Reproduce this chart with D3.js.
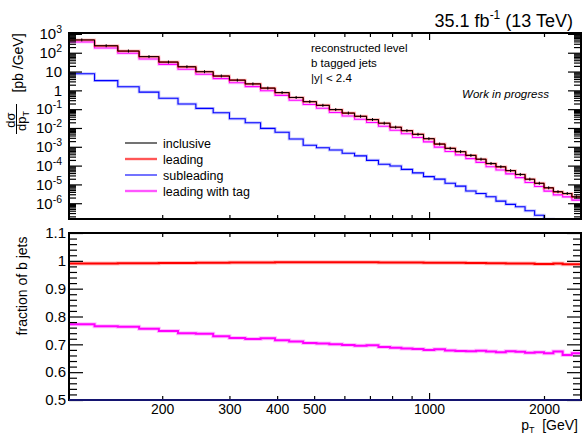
<!DOCTYPE html>
<html><head><meta charset="utf-8">
<script src="https://cdn.jsdelivr.net/npm/d3@7"></script>
<style>
body{margin:0;background:#fff;}
svg{display:block;font-family:"Liberation Sans",Arial,Helvetica,sans-serif;}
</style></head><body>
<svg id="c" width="582" height="435"></svg>
<script>
// ---------------- data ----------------
const binEdges = [114,133,153,174,196,220,245,272,300,330,362,395,430,468,507,548,592,638,686,737,790,846,905,967,1032,1101,1172,1248,1327,1410,1497,1588,1684,1784,1890,2000,2116,2238,2366,2500];
const inclusive = [480,235,123,62,32,18,9.8,5.8,3.5,2.2,1.32,0.76,0.42,0.25,0.16,0.095,0.062,0.042,0.028,0.018,0.011,0.0072,0.0046,0.0027,0.0014,0.00083,0.00055,0.00035,0.00022,0.00013,8.7e-5,5.4e-5,3.4e-5,1.9e-5,1.15e-5,6.6e-6,4.1e-6,3.3e-6,2.2e-6];
const subleading = [7.7,3.3,1.55,0.81,0.38,0.19,0.11,0.065,0.031,0.019,0.0095,0.0059,0.0026,0.0012,0.00089,0.00067,0.00045,0.00033,0.00019,1.17e-4,9.6e-5,6.3e-5,4.1e-5,2.6e-5,1.9e-5,1.15e-5,8.1e-6,4.5e-6,3.3e-6,2.2e-6,1.3e-6,8.7e-7,6.5e-7,4.0e-7,2.3e-7,1.4e-7,8e-8,5e-8,3e-8];
const leadingFraction = [0.990,0.990,0.991,0.991,0.992,0.992,0.993,0.993,0.994,0.994,0.994,0.995,0.995,0.995,0.995,0.995,0.995,0.995,0.995,0.994,0.994,0.994,0.994,0.993,0.993,0.993,0.993,0.992,0.992,0.991,0.991,0.990,0.990,0.990,0.989,0.989,0.990,0.988,0.988];
const taggedFraction = [0.772,0.765,0.763,0.756,0.748,0.740,0.738,0.729,0.723,0.719,0.722,0.715,0.710,0.705,0.703,0.700,0.698,0.695,0.697,0.690,0.688,0.685,0.683,0.680,0.682,0.678,0.676,0.675,0.677,0.674,0.672,0.675,0.673,0.670,0.672,0.668,0.674,0.662,0.668];
const seriesNames = ["inclusive","leading","subleading","leading with tag"];
const seriesColors = ["#000000","#ff0000","#0000ff","#ff00ff"];
const xTickValues = [200,300,400,500,600,700,800,900,1000,2000];
const xTickLabels = ["200","300","400","500","","","","","1000","2000"];
const yTopDecades = [3,2,1,0,-1,-2,-3,-4,-5,-6];
const yBottomTicks = [0.5,0.6,0.7,0.8,0.9,1.0,1.1];
const yBottomLabels = ["0.5","0.6","0.7","0.8","0.9","1","1.1"];
const annotations = ["reconstructed level","b tagged jets","|y| < 2.4"];

// ---------------- layout ----------------
const L=69,R=581,T1=33,B1=219,T2=233,B2=400;
const svg = d3.select("#c");
const x = d3.scaleLog().domain([binEdges[0], binEdges[binEdges.length-1]]).range([L,R]);
const yTop = d3.scaleLog().domain([1.45e-7,1.12e3]).range([B1,T1]);
const yBot = d3.scaleLinear().domain([0.5,1.1]).range([B2,T2]);

const defs = svg.append("defs");
defs.append("clipPath").attr("id","cpTop").append("rect").attr("x",L).attr("y",T1).attr("width",R-L).attr("height",B1-T1);
defs.append("clipPath").attr("id","cpBot").append("rect").attr("x",L).attr("y",T2).attr("width",R-L).attr("height",B2-T2);

function stepPoints(vals){
  const pts=[];
  vals.forEach((v,i)=>{pts.push([binEdges[i],v]);pts.push([binEdges[i+1],v]);});
  return pts;
}
const lineTop = d3.line().x(d=>x(d[0])).y(d=>yTop(Math.max(d[1],1e-12)));
const lineBot = d3.line().x(d=>x(d[0])).y(d=>yBot(d[1]));

const leading = inclusive.map((v,i)=>v*leadingFraction[i]);
const tagged = inclusive.map((v,i)=>v*taggedFraction[i]);

// ---------- top panel series ----------
const gTop = svg.append("g").attr("clip-path","url(#cpTop)");
function drawTop(vals,color,band,w){
  if(band) gTop.append("path").attr("d",lineTop(stepPoints(vals))).attr("fill","none").attr("stroke",color).attr("stroke-opacity",0.22).attr("stroke-width",3);
  gTop.append("path").attr("d",lineTop(stepPoints(vals))).attr("fill","none").attr("stroke",color).attr("stroke-width",w);
}
drawTop(subleading,seriesColors[2],true,1.1);
drawTop(tagged,seriesColors[3],true,1.1);
drawTop(leading,seriesColors[1],true,1.2);
drawTop(inclusive,seriesColors[0],false,1);
// tiny error bars on inclusive
gTop.selectAll("line.eb").data(inclusive).join("line").attr("class","eb")
  .attr("x1",(d,i)=>x(Math.sqrt(binEdges[i]*binEdges[i+1]))).attr("x2",(d,i)=>x(Math.sqrt(binEdges[i]*binEdges[i+1])))
  .attr("y1",d=>yTop(d)-1.5).attr("y2",d=>yTop(d)+1.5).attr("stroke","#000").attr("stroke-width",1);

// ---------- bottom panel series ----------
const gBot = svg.append("g").attr("clip-path","url(#cpBot)");
function drawBot(vals,color){
  gBot.append("path").attr("d",lineBot(stepPoints(vals))).attr("fill","none").attr("stroke",color).attr("stroke-opacity",0.25).attr("stroke-width",4);
  gBot.append("path").attr("d",lineBot(stepPoints(vals))).attr("fill","none").attr("stroke",color).attr("stroke-width",2);
}
drawBot(leadingFraction,seriesColors[1]);
drawBot(taggedFraction,seriesColors[3]);

// ---------------- axes ----------------
const tickStroke = 1.2;
function clean(g){ g.select(".domain").remove(); g.selectAll(".tick line").attr("stroke","#000").attr("stroke-width",tickStroke); return g; }

const majorsTop = yTopDecades.map(k=>Math.pow(10,k));
const minorsTop = [];
for(let k=-7;k<=3;k++) for(let m=2;m<=9;m++){ const v=m*Math.pow(10,k); if(v>=yTop.domain()[0]&&v<=yTop.domain()[1]) minorsTop.push(v); }

function supLabel(sel){
  sel.each(function(d){
    const k = Math.round(Math.log10(d));
    const t = d3.select(this); t.text(null);
    if(k===0){ t.text("1"); }
    else if(k===1){ t.text("10"); }
    else { t.append("tspan").text("10"); t.append("tspan").attr("dy","-6px").attr("font-size","10.5px").text(String(k)); }
  });
}
// left top
const gLT = svg.append("g").attr("transform",`translate(${L},0)`)
  .call(d3.axisLeft(yTop).tickValues(majorsTop).tickSizeInner(-13).tickSizeOuter(0).tickPadding(7).tickFormat(d=>d));
clean(gLT); gLT.selectAll("text").attr("font-size","15px").attr("fill","#000").attr("font-family",null).call(supLabel);
clean(svg.append("g").attr("transform",`translate(${L},0)`).call(d3.axisLeft(yTop).tickValues(minorsTop).tickSizeInner(-7).tickSizeOuter(0).tickFormat("")));
// right top
clean(svg.append("g").attr("transform",`translate(${R},0)`).call(d3.axisRight(yTop).tickValues(majorsTop).tickSizeInner(-13).tickSizeOuter(0).tickFormat("")));
clean(svg.append("g").attr("transform",`translate(${R},0)`).call(d3.axisRight(yTop).tickValues(minorsTop).tickSizeInner(-7).tickSizeOuter(0).tickFormat("")));

// bottom panel y
const minorsBot = d3.range(0.5,1.1001,0.02).filter(v=>Math.abs(Math.round(v*10)-v*10)>1e-6);
const gLB = svg.append("g").attr("transform",`translate(${L},0)`)
  .call(d3.axisLeft(yBot).tickValues(yBottomTicks).tickSizeInner(-14).tickSizeOuter(0).tickPadding(3).tickFormat((d,i)=>yBottomLabels[i]));
clean(gLB); gLB.selectAll("text").attr("font-size","15px").attr("fill","#000").attr("font-family",null);
clean(svg.append("g").attr("transform",`translate(${L},0)`).call(d3.axisLeft(yBot).tickValues(minorsBot).tickSizeInner(-8).tickSizeOuter(0).tickFormat("")));
clean(svg.append("g").attr("transform",`translate(${R},0)`).call(d3.axisRight(yBot).tickValues(yBottomTicks).tickSizeInner(-14).tickSizeOuter(0).tickFormat("")));
clean(svg.append("g").attr("transform",`translate(${R},0)`).call(d3.axisRight(yBot).tickValues(minorsBot).tickSizeInner(-8).tickSizeOuter(0).tickFormat("")));

// x ticks
function xTicks(y, dir, labels){
  const ax = (dir==="top"? d3.axisTop(x) : d3.axisBottom(x)).tickValues(xTickValues).tickSizeOuter(0)
     .tickSizeInner(-4).tickPadding(4).tickFormat((d,i)=>labels? xTickLabels[i] : "");
  const g = svg.append("g").attr("transform",`translate(0,${y})`).call(ax);
  clean(g);
  g.selectAll(".tick line").attr("y2",d=> (d===1000?7:4)*(dir==="top"?1:-1));
  if(labels) g.selectAll("text").attr("font-size","14px").attr("fill","#000").attr("font-family",null);
  return g;
}
xTicks(T1,"top",false);
xTicks(B1,"bottom",false);
xTicks(T2,"top",false);
xTicks(B2,"bottom",true);

// frames
svg.append("rect").attr("x",L).attr("y",T1).attr("width",R-L).attr("height",B1-T1).attr("fill","none").attr("stroke","#000").attr("stroke-width",2);
svg.append("rect").attr("x",L).attr("y",T2).attr("width",R-L).attr("height",B2-T2).attr("fill","none").attr("stroke","#000").attr("stroke-width",2);
svg.append("line").attr("x1",L).attr("x2",R).attr("y1",B2).attr("y2",B2).attr("stroke","#141470").attr("stroke-width",2.2);

// ---------------- texts ----------------
const title = svg.append("text").attr("x",573).attr("y",26.5).attr("text-anchor","end").attr("font-size","18px").attr("fill","#000");
title.append("tspan").text("35.1 fb");
title.append("tspan").attr("dy","-8px").attr("font-size","12px").text("-1");
title.append("tspan").attr("dy","8px").text(" (13 TeV)");

annotations.forEach((t,i)=>{
  svg.append("text").attr("x",311).attr("y",51.5+15*i).attr("font-size","11.5px").attr("fill","#000").text(t);
});
svg.append("text").attr("x",549).attr("y",98).attr("text-anchor","end").attr("font-size","11.5px").attr("font-style","italic").attr("fill","#000").text("Work in progress");

// legend
const legendRows = [143,159,175,191];
seriesNames.forEach((n,i)=>{
  const y = legendRows[i];
  if(i===1||i===3) svg.append("line").attr("x1",125).attr("x2",157).attr("y1",y).attr("y2",y).attr("stroke",seriesColors[i]).attr("stroke-opacity",0.25).attr("stroke-width",3);
  svg.append("line").attr("x1",125).attr("x2",157).attr("y1",y).attr("y2",y).attr("stroke",seriesColors[i]).attr("stroke-width",1.1);
  svg.append("text").attr("x",163).attr("y",y+4.5).attr("font-size","12.5px").attr("fill","#000").text(n);
});

// y title top
svg.append("text").attr("transform","translate(23,63) rotate(-90)").attr("text-anchor","middle").attr("font-size","14px").attr("fill","#000").text("[pb /GeV]");
svg.append("text").attr("transform","translate(14.5,120) rotate(-90)").attr("text-anchor","middle").attr("font-size","13px").attr("fill","#000").text("dσ");
svg.append("line").attr("x1",16.5).attr("x2",16.5).attr("y1",104).attr("y2",134).attr("stroke","#000").attr("stroke-width",1);
const dp = svg.append("text").attr("transform","translate(26,121) rotate(-90)").attr("text-anchor","middle").attr("font-size","13px").attr("fill","#000");
dp.append("tspan").text("dp");
dp.append("tspan").attr("dy","3px").attr("font-size","9px").text("T");

// y title bottom
svg.append("text").attr("transform","translate(27,286) rotate(-90)").attr("text-anchor","middle").attr("font-size","14px").attr("fill","#000").text("fraction of b jets");

// x title
const xt = svg.append("text").attr("x",578).attr("y",430).attr("text-anchor","end").attr("font-size","14px").attr("fill","#000");
xt.append("tspan").text("p");
xt.append("tspan").attr("dy","3px").attr("font-size","9px").text("T");
xt.append("tspan").attr("dy","-3px").text("\u00a0\u00a0[GeV]");
</script>
</body></html>
